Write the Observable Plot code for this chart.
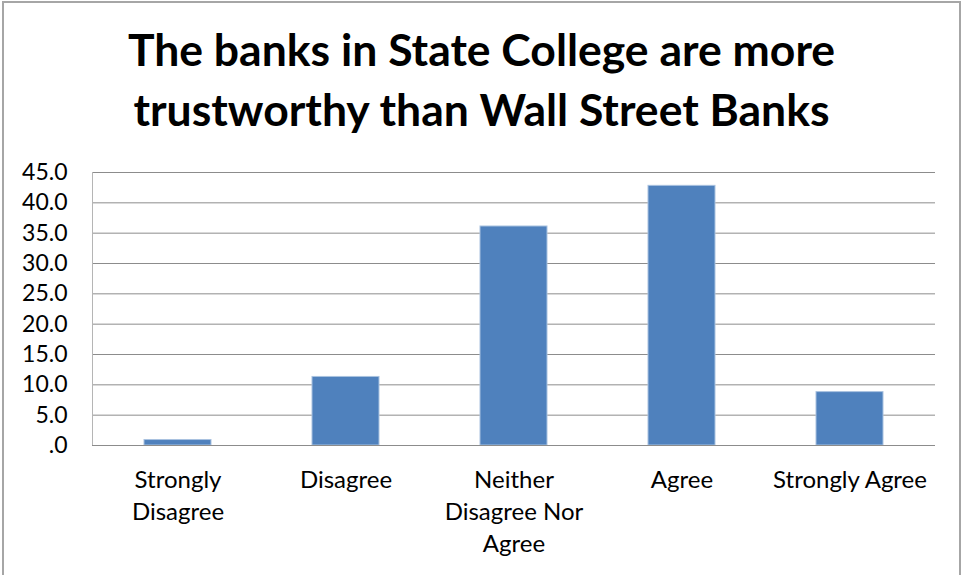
<!DOCTYPE html>
<html><head><meta charset="utf-8">
<script src="https://cdn.jsdelivr.net/npm/d3@7"></script>
<script src="https://cdn.jsdelivr.net/npm/@observablehq/plot@0.6"></script>
<style>
body{margin:0;background:#fff;}
#wrap{position:relative;width:963px;height:575px;overflow:hidden;font-family:Lato,sans-serif;}
#border{position:absolute;left:2px;top:1px;width:959px;height:600px;border:2px solid #a6a6a6;box-sizing:border-box;pointer-events:none}
#title{height:150px;box-sizing:border-box;padding-top:19px;text-align:center;font-weight:bold;font-size:44.5px;line-height:60px;color:#000}
#wrap svg{display:block}
</style></head>
<body><div id="wrap"><div id="title">The banks in State College are more<br>trustworthy than Wall Street Banks</div><div id="border"></div></div>
<script>
const categories = ["Strongly\nDisagree", "Disagree", "Neither\nDisagree Nor\nAgree", "Agree", "Strongly Agree"];
const percentages = [0.9, 11.3, 36.1, 42.8, 8.8];
const yTicks = [0, 5, 10, 15, 20, 25, 30, 35, 40, 45];

const data = categories.map((c, i) => ({category: c, value: percentages[i]}));

const chart = Plot.plot({
  width: 963, height: 425,
  marginLeft: 92, marginRight: 28, marginTop: 22, marginBottom: 130,
  style: {fontFamily: "Lato, sans-serif", fontSize: "24px", color: "#000", background: "transparent"},
  x: {domain: categories, paddingInner: 0.6, paddingOuter: 0.3, label: null},
  y: {domain: [0, 45], label: null},
  marks: [
    Plot.gridY(yTicks, {stroke: "#8c8c8c", strokeOpacity: 1, strokeWidth: 1}),
    Plot.frame({anchor: "left", stroke: "#b5b5b5"}),
    Plot.barY(data, {x: "category", y: "value", fill: "#4f81bd", stroke: "#a9c2e0", strokeWidth: 1}),
    Plot.ruleY([0], {stroke: "#8c8c8c"}),
    Plot.axisY(yTicks, {tickSize: 0, tickPadding: 25, fontSize: 23, tickFormat: d => d === 0 ? ".0" : d.toFixed(1)}),
    Plot.axisX({tickSize: 0, tickPadding: 19, fontSize: 24, lineHeight: 1.35, textAnchor: "middle"})
  ]
});
document.getElementById("wrap").appendChild(chart);
</script>
</body></html>
